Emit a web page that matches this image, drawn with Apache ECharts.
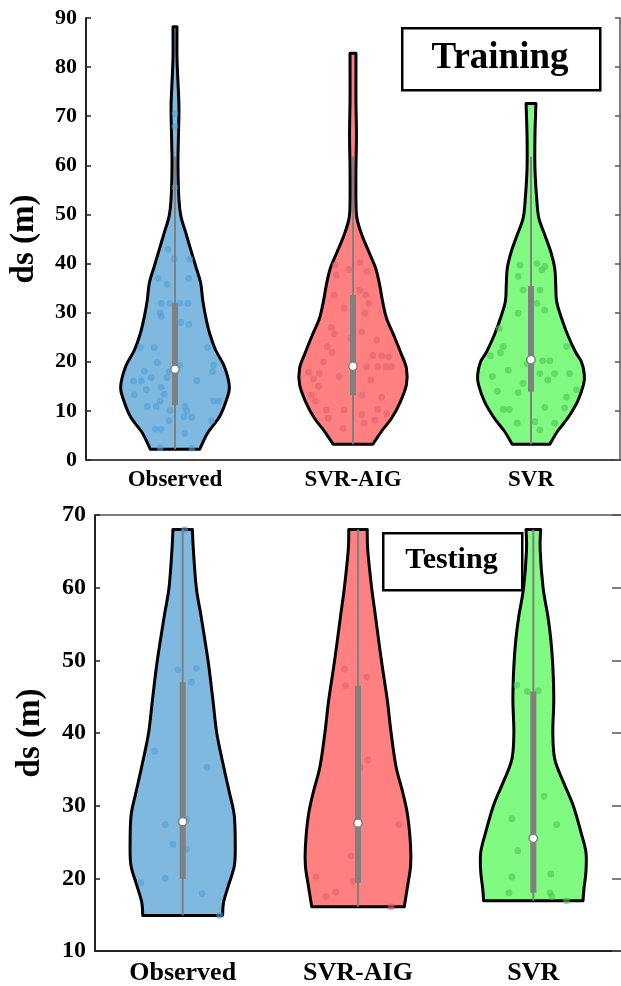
<!DOCTYPE html>
<html><head><meta charset="utf-8">
<script src="https://cdn.jsdelivr.net/npm/echarts@6/dist/echarts.min.js"></script>
<style>html,body{margin:0;padding:0;background:#fff;overflow:hidden}#c{width:621px;height:986px}</style>
</head><body><div id="c"></div>
<script>
// ---------------- DATA ----------------
const categories = ['Observed', 'SVR-AIG', 'SVR'];
const trainAxis = [0, 90, 10];   // min, max, interval
const testAxis = [10, 70, 10];

// Violin outlines: y levels (m) and half-widths (units = 1/180 of a category band)
const trainObsY = [2.2,5.5,8.8,12.2,14.9,19,22.4,25.8,29.2,32.6,36,39.4,42.8,46.2,49.6,53,60,66,72,77,82,88.2];
const trainObsW = [25,33,45,52,55,50,41,35,31,28,26,21,16,11,6,4,3,3.5,4,3,2,2];
const trainAigY = [3.2,5.9,8.5,11.9,15.3,18.7,22,25.5,28.8,32.2,35.6,39,42.4,45.8,49.2,52.6,59.4,66.2,73,79.8,82.8];
const trainAigW = [20,29,39,48,54,54,48,41,34,30,27,23,16,9,4,3,3,3.5,3,3,3];
const trainSvrY = [3.2,5.9,8.5,11.9,15.3,17.3,20,22,25.5,28.8,32.2,35.6,39,42.4,45.8,49.2,52.6,59.4,66,72.6];
const trainSvrW = [19,27,37,47,53,54,51,45,37,31,26,25,24,20,14,8,6,4,4,5];

const testObsY = [14.9,16.7,19,21.7,24.4,28.6,31.8,35.4,40,44.6,50,56,60,65.2,68];
const testObsW = [41,42,47,53,54,53,48,42,35,31,26,19,14,11,10];
const testAigY = [16.1,19,21.7,24.4,28.6,31.8,35.4,40,44.6,50,56,60,65.2,68];
const testAigW = [47.5,51,54,54,51,46,39,34,30,24,18,14,10,9.5];
const testSvrY = [16.9,18.6,20.9,23.6,26.3,30,33.2,36.4,40,44.6,49.2,52.8,56,60,65.2,68];
const testSvrW = [51,52,54,54,49,41,31,22,20,21,20,18,15,10,7,7.5];

// Box stats: [lower whisker, Q1, median, Q3, upper whisker]
const trainBoxes = [[2.2,11.2,18.5,31.9,61.8],[3.2,13.2,19.1,33.6,61.8],[3.2,13.9,20.4,35.4,61.8]];
const testBoxes  = [[14.9,19.9,27.8,47.0,68],[16.1,19.4,27.6,46.5,68],[16.9,18.0,25.5,45.7,68]];

// Jittered samples: [horizontal jitter (1/180 band), value (m)]
const trainObsPts = [[-7,42.9],[-1,40.9],[15,40.9],[-17,37.0],[14,37.0],[-8,35.8],[-14,31.9],[-5,31.9],[5,31.9],[13,31.9],[-15,29.9],[-14,29.2],[6,28.0],[14,27.6],[-35,22.9],[-21,22.9],[33,22.9],[-18,19.8],[39,19.3],[5,19.3],[-6,18.0],[-31,18.1],[-42,16.1],[-34,16.1],[-24,16.8],[-8,16.8],[22,16.2],[38,18.0],[-29,14.3],[-14,14.8],[-11,13.4],[-41,13.3],[-15,12.0],[-28,10.9],[-19,10.9],[10,10.9],[12,10.0],[44,12.0],[39,12.0],[-5,10.1],[9,8.8],[17,8.7],[-6,8.0],[37,8.0],[-20,6.3],[-14,6.3],[10,5.4],[0,67.9],[0,70.5],[0,55.5],[-15,2.5],[17,2.4]];
const trainAigPts = [[-18,39.7],[-4,38.8],[7,40.2],[14,38.4],[-17,37.6],[7,34.6],[13,33.6],[-19,33.6],[-9,30.9],[16,31.9],[12,29.9],[9,26.1],[-19,25.7],[-2,24.8],[24,24.4],[-26,23.1],[-21,21.9],[20,21.3],[29,21.2],[36,21.0],[39,19.0],[14,19.0],[25,19.0],[33,19.0],[-34,17.6],[-45,17.9],[18,16.3],[9,13.2],[-42,13.2],[29,12.8],[-27,10.2],[-9,10.2],[9,9.3],[25,10.3],[34,9.4],[22,8.1],[-10,6.4],[11,7.5],[-40,16.5],[-38,12],[-30,20],[-35,15],[-25,8.5],[-22,27],[-14,17]];
const trainSvrPts = [[-11,39.7],[6,40.0],[14,39.4],[11,38.7],[-13,37.4],[-8,34.6],[9,34.6],[6,31.9],[-13,29.9],[14,30.5],[-32,26.8],[-28,23.1],[36,23.1],[-41,21.2],[-31,21.8],[-4,19.6],[12,20.2],[19,20.2],[-39,17.0],[-23,18.3],[-8,15.6],[9,17.6],[17,16.3],[24,17.6],[39,17.6],[46,14.3],[-34,14.0],[-13,13.7],[-22,10.3],[-28,10.3],[14,10.7],[36,12.8],[34,10.6],[4,7.8],[-14,7.5],[24,7.5],[9,6.1]];
const testObsPts = [[-5,48.7],[14,48.9],[9,47],[-29,37.5],[25,35.3],[-18,27.4],[4,28.1],[-10,24.7],[4,24],[-43,19.4],[-18,20],[20,17.9],[2,68],[38,14.9]];
const testAigPts = [[-14,48.8],[9,47.7],[-13,46.5],[10,36.3],[2,35.2],[42,27.4],[-7,23.1],[-43,20.2],[-5,19.6],[-23,18.1],[-33,17.5],[34,16.1]];
const testSvrPts = [[-17,46.6],[-6,45.7],[5,45.8],[11,31.3],[-22,28.2],[24,27.4],[-16,23.8],[-22,20.2],[18,20.6],[-25,18],[17,18],[19,17.5],[34,16.9]];

// ---------------- STYLE ----------------
const FONT = "'Liberation Serif','Times New Roman',serif";
const fills = ['#80b9e0', '#ff8080', '#80fa80'];
const dots  = ['#4f9fd8', '#e0606e', '#52c452'];
const boxGrey = '#808080';

function sidePath(pts, move) {
  let d = (move ? 'M' : 'L') + pts[0][0] + ',' + pts[0][1];
  for (let i = 0; i < pts.length - 1; i++) {
    const p0 = pts[Math.max(i - 1, 0)], p1 = pts[i], p2 = pts[i + 1], p3 = pts[Math.min(i + 2, pts.length - 1)];
    const c1 = [p1[0] + (p2[0] - p0[0]) / 6, p1[1] + (p2[1] - p0[1]) / 6];
    const c2 = [p2[0] - (p3[0] - p1[0]) / 6, p2[1] - (p3[1] - p1[1]) / 6];
    d += 'C' + c1[0] + ',' + c1[1] + ' ' + c2[0] + ',' + c2[1] + ' ' + p2[0] + ',' + p2[1];
  }
  return d;
}

function violinSeries(axisIdx, idx, ys, ws) {
  return {
    type: 'custom', xAxisIndex: axisIdx, yAxisIndex: axisIdx, z: 2, silent: true,
    data: [[idx, ys[0]]], encode: { x: 0, y: 1 },
    renderItem(params, api) {
      const k = api.size([1, 0])[0] / 180;
      const right = [], left = [];
      for (let j = 0; j < ys.length; j++) {
        const p = api.coord([idx, ys[j]]);
        right.push([p[0] + ws[j] * k, p[1]]);
        left.unshift([p[0] - ws[j] * k, p[1]]);
      }
      return {
        type: 'path',
        shape: { pathData: sidePath(right, true) + sidePath(left, false) + 'Z' },
        style: { fill: fills[idx], stroke: '#000', lineWidth: 3, lineJoin: 'round' }
      };
    }
  };
}

function pointsSeries(axisIdx, idx, pts) {
  return {
    type: 'custom', xAxisIndex: axisIdx, yAxisIndex: axisIdx, z: 3, silent: true,
    data: pts.map(p => [idx, p[1], p[0]]), encode: { x: 0, y: 1 },
    renderItem(params, api) {
      const k = api.size([1, 0])[0] / 180;
      const p = api.coord([idx, api.value(1)]);
      return { type: 'circle', shape: { cx: p[0] + api.value(2) * k, cy: p[1], r: 3.4 },
               style: { fill: dots[idx], opacity: 0.6 } };
    }
  };
}

function boxSeries(axisIdx, boxes) {
  return {
    type: 'custom', xAxisIndex: axisIdx, yAxisIndex: axisIdx, z: 4, silent: true,
    data: boxes.map((b, i) => [i].concat(b)), encode: { x: 0, y: [1, 2, 3, 4, 5] },
    renderItem(params, api) {
      const i = api.value(0);
      const lo = api.coord([i, api.value(1)]), q1 = api.coord([i, api.value(2)]),
            md = api.coord([i, api.value(3)]), q3 = api.coord([i, api.value(4)]),
            hi = api.coord([i, api.value(5)]);
      return { type: 'group', children: [
        { type: 'line', shape: { x1: lo[0], y1: lo[1], x2: hi[0], y2: hi[1] }, style: { stroke: boxGrey, lineWidth: 2 } },
        { type: 'rect', shape: { x: q1[0] - 3, y: q3[1], width: 6, height: q1[1] - q3[1] }, style: { fill: boxGrey } },
        { type: 'circle', shape: { cx: md[0], cy: md[1], r: 4.2 }, style: { fill: '#fff', stroke: boxGrey, lineWidth: 1.5 } }
      ]};
    }
  };
}

function xAxes(grid, fontSize, margin) {
  return [
    { type: 'category', gridIndex: grid, data: categories, position: 'bottom', boundaryGap: true,
      axisLine: { lineStyle: { color: '#222', width: 2 } },
      axisTick: { inside: true, alignWithLabel: true, length: 5, lineStyle: { color: '#222', width: 1.5 } },
      axisLabel: { fontFamily: FONT, fontWeight: 'bold', fontSize: fontSize, color: '#000', margin: margin },
      splitLine: { show: false } },
    { type: 'category', gridIndex: grid, data: categories, position: 'top', boundaryGap: true,
      axisLine: { lineStyle: { color: '#555', width: 1.5 } },
      axisTick: { inside: true, alignWithLabel: true, length: 5, lineStyle: { color: '#333', width: 1.5 } },
      axisLabel: { show: false }, splitLine: { show: false } }
  ];
}
function yAxes(grid, range, fontSize, nameGap, rightTick, rightLine) {
  return [
    { type: 'value', gridIndex: grid, min: range[0], max: range[1], interval: range[2], position: 'left',
      name: 'ds (m)', nameLocation: 'middle', nameGap: nameGap,
      nameTextStyle: { fontFamily: FONT, fontWeight: 'bold', fontSize: 33, color: '#000' },
      axisLine: { show: true, lineStyle: { color: '#222', width: 2 } },
      axisTick: { show: true, inside: true, length: 5, lineStyle: { color: '#222', width: 1.5 } },
      axisLabel: { fontFamily: FONT, fontWeight: 'bold', fontSize: fontSize, color: '#000', margin: 9 },
      splitLine: { show: false } },
    { type: 'value', gridIndex: grid, min: range[0], max: range[1], interval: range[2], position: 'right',
      axisLine: { show: rightLine, lineStyle: { color: '#555', width: 1.5 } },
      axisTick: { show: true, inside: true, length: rightTick, lineStyle: { color: '#555', width: 1.5 } },
      axisLabel: { show: false }, splitLine: { show: false } }
  ];
}

const chart = echarts.init(document.getElementById('c'), null, { renderer: 'canvas' });
const xa = xAxes(0, 23, 9).concat(xAxes(1, 26, 9));
const ya = yAxes(0, trainAxis, 22, 45, 5, true).concat(yAxes(1, testAxis, 24, 48, 9, false));

chart.setOption({
  animation: false,
  backgroundColor: '#fff',
  grid: [
    { left: 84, top: 18, width: 536, height: 442 },
    { left: 95, top: 515, width: 533, height: 437 }
  ],
  xAxis: xa,
  yAxis: ya,
  graphic: [
    { type: 'rect', left: 401, top: 27, shape: { width: 198, height: 62 }, style: { fill: '#fff', stroke: '#000', lineWidth: 2.5 }, z: 10 },
    { type: 'text', x: 500, y: 58, style: { text: 'Training', font: 'bold 37px ' + FONT, fill: '#000', align: 'center', verticalAlign: 'middle' }, z: 11 },
    { type: 'rect', left: 382, top: 532, shape: { width: 139, height: 57 }, style: { fill: '#fff', stroke: '#000', lineWidth: 2.5 }, z: 10 },
    { type: 'text', x: 451.5, y: 560, style: { text: 'Testing', font: 'bold 30px ' + FONT, fill: '#000', align: 'center', verticalAlign: 'middle' }, z: 11 }
  ],
  series: [
    violinSeries(0, 0, trainObsY, trainObsW),
    violinSeries(0, 1, trainAigY, trainAigW),
    violinSeries(0, 2, trainSvrY, trainSvrW),
    pointsSeries(0, 0, trainObsPts),
    pointsSeries(0, 1, trainAigPts),
    pointsSeries(0, 2, trainSvrPts),
    boxSeries(0, trainBoxes),
    violinSeries(2, 0, testObsY, testObsW),
    violinSeries(2, 1, testAigY, testAigW),
    violinSeries(2, 2, testSvrY, testSvrW),
    pointsSeries(2, 0, testObsPts),
    pointsSeries(2, 1, testAigPts),
    pointsSeries(2, 2, testSvrPts),
    boxSeries(2, testBoxes)
  ]
});
</script></body></html>
